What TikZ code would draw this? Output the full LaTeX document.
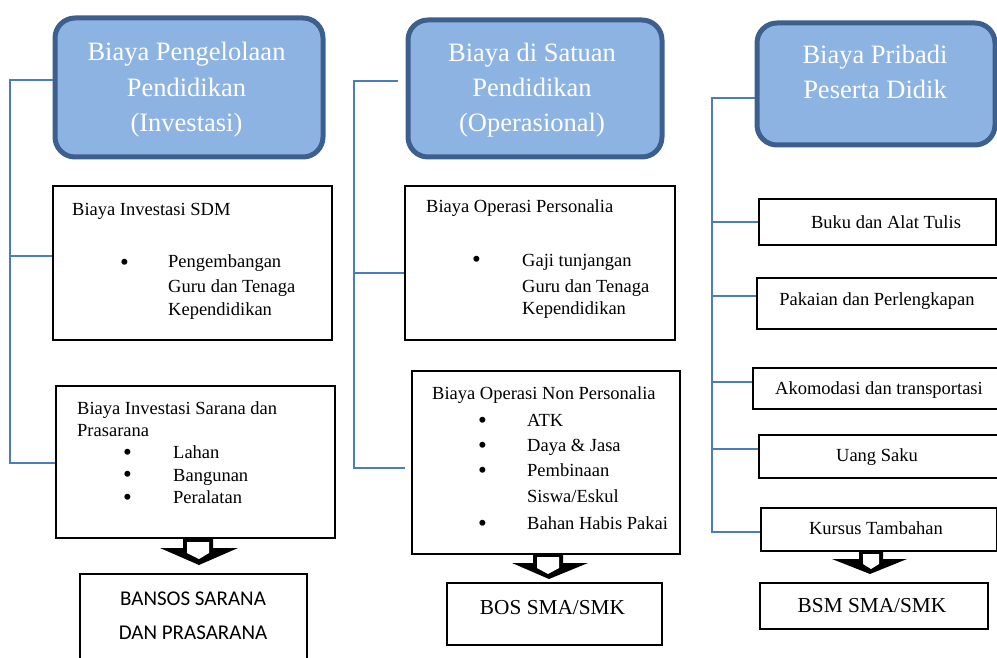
\documentclass[tikz,border=0pt]{standalone}
\usepackage{graphicx}
\usepackage{fontspec}
\setmainfont{Liberation Serif}
\newfontfamily\calibrifont{Carlito}
\definecolor{hdrfill}{HTML}{8DB3E2}
\definecolor{hdrline}{HTML}{3C5F8E}
\definecolor{connblue}{HTML}{4A7EBB}
\newcommand{\bigbul}{\scalebox{1.35}{•}}
\begin{document}
\begin{tikzpicture}[x=1pt,y=-1pt,
  hdr/.style={draw=hdrline,fill=hdrfill,line width=5pt,rounded corners=20pt,anchor=north west,inner sep=0pt},
  box/.style={draw=black,line width=1.6pt,fill=white,anchor=north west,inner sep=0pt},
  conn/.style={draw=connblue,line width=2pt},
  hdrtxt/.style={text=white,font=\fontsize{26.5}{30}\selectfont,anchor=base,inner sep=0pt},
  txt/.style={font=\fontsize{18.5}{22}\selectfont,anchor=base west,inner sep=0pt},
  bul/.style={font=\fontsize{18.5}{22}\selectfont,anchor=base west,inner sep=0pt},
  bulcol/.style={font=\fontsize{18.5}{22.5}\selectfont,anchor=north west,inner sep=0pt,align=left},
  ctxt/.style={font=\fontsize{18.5}{22}\selectfont,anchor=base,inner sep=0pt},
  bigtxt/.style={font=\fontsize{21.3}{25}\selectfont,anchor=base,inner sep=0pt},
  caltxt/.style={font=\calibrifont\fontsize{21}{25}\selectfont,anchor=base,inner sep=0pt},
  blkout/.style={fill=black},
  blkin/.style={fill=white}
]
\useasboundingbox (0,0) rectangle (997,658);

% spine coordinates
\coordinate (sp1a) at (10,80);
\coordinate (sp1b) at (10,463);
\coordinate (b1) at (10,256);
\coordinate (sp2a) at (354,81);
\coordinate (sp2b) at (354,468);
\coordinate (b2) at (354,273);
\coordinate (sp3a) at (712,98);
\coordinate (sp3b) at (712,532);
\coordinate (r1) at (712,222);
\coordinate (r2) at (712,296);
\coordinate (r3) at (712,382);
\coordinate (r4) at (712,449);

% header nodes
\node[hdr,minimum width=268pt,minimum height=139pt] (h1) at (52.5,15.5) {};
\node[hdr,minimum width=254pt,minimum height=137pt] (h2) at (405.5,17.5) {};
\node[hdr,minimum width=238pt,minimum height=122pt] (h3) at (754.5,20.5) {};

% boxes
\node[box,minimum width=279pt,minimum height=154pt] (sdm) at (52,185) {};
\node[box,minimum width=279pt,minimum height=152pt] (sar) at (55,385) {};
\node[box,minimum width=227pt,minimum height=90pt] (bansos) at (79,573) {};
\node[box,minimum width=270pt,minimum height=154pt] (pers) at (404,185) {};
\node[box,minimum width=268pt,minimum height=183pt] (nonp) at (411,370) {};
\node[box,minimum width=215pt,minimum height=62pt] (bos) at (446,582) {};
\node[box,minimum width=237pt,minimum height=46pt] (buku) at (758,198) {};
\node[box,minimum width=243pt,minimum height=51pt] (pak) at (756,277) {};
\node[box,minimum width=250pt,minimum height=41pt] (ako) at (752,367) {};
\node[box,minimum width=241pt,minimum height=43pt] (uang) at (758,434) {};
\node[box,minimum width=236pt,minimum height=43pt] (kur) at (760,507) {};
\node[box,minimum width=228pt,minimum height=46pt] (bsm) at (759,582) {};

% connectors
\draw[conn] (h1.west |- sp1a) -- (sp1a) -- (sp1b) -- (sar.west |- sp1b);
\draw[conn] (b1) -- (sdm.west |- b1);
\draw[conn,shorten <=8pt,shorten >=6pt] (h2.west |- sp2a) -- (sp2a) -- (sp2b) -- (nonp.west |- sp2b);
\draw[conn] (b2) -- (pers.west |- b2);
\draw[conn] (h3.west |- sp3a) -- (sp3a) -- (sp3b) -- (kur.west |- sp3b);
\draw[conn] (r1) -- (buku.west |- r1);
\draw[conn] (r2) -- (pak.west |- r2);
\draw[conn] (r3) -- (ako.west |- r3);
\draw[conn] (r4) -- (uang.west |- r4);

% block arrows (black outline, white interior)
\fill[blkout] (183,538) -- (213,538) -- (213,548) -- (238,548) -- (199,565) -- (160,548) -- (183,548) -- cycle;
\fill[blkin] (187,542) -- (209,542) -- (209,553) -- (199,559) -- (187,553) -- cycle;
\fill[blkout] (533,553) -- (563,553) -- (563,563) -- (588,563) -- (549,579) -- (512,563) -- (533,563) -- cycle;
\fill[blkin] (537,557) -- (559,557) -- (559,568) -- (548,574) -- (537,568) -- cycle;
\fill[blkout] (859,550) -- (883,550) -- (883,559) -- (907,559) -- (870,574) -- (832,559) -- (859,559) -- cycle;
\fill[blkin] (863,554) -- (879,554) -- (879,564) -- (871,569) -- (863,564) -- cycle;

% header texts
\node[hdrtxt] (h1t1) at (186.5,61) {Biaya Pengelolaan};
\node[hdrtxt] (h1t2) at (186.5,97) {Pendidikan};
\node[hdrtxt] (h1t3) at (186.5,132) {(Investasi)};
\node[hdrtxt] (h2t1) at (532,62) {Biaya di Satuan};
\node[hdrtxt] (h2t2) at (532,97) {Pendidikan};
\node[hdrtxt] (h2t3) at (532,132) {(Operasional)};
\node[hdrtxt] (h3t1) at (875,64) {Biaya Pribadi};
\node[hdrtxt] (h3t2) at (875,99) {Peserta Didik};

% SDM box
\node[txt] (sdmt) at (72,215) {Biaya Investasi SDM};
\node[bul] (sdmb) at (120,270) {\bigbul};
\node[txt] (sdm1) at (168,268) {Pengembangan};
\node[txt] (sdm2) at (168,292) {Guru dan Tenaga};
\node[txt] (sdm3) at (168,315) {Kependidikan};

% Sarana box
\node[txt] (sart1) at (77,414) {Biaya Investasi Sarana dan};
\node[txt] (sart2) at (77,436) {Prasarana};
\node[bulcol] (sarb) at (123,449) {\bigbul\\\bigbul\\\bigbul};
\node[txt] (sar1) at (173,458) {Lahan};
\node[txt] (sar2) at (173,481) {Bangunan};
\node[txt] (sar3) at (173,503) {Peralatan};

% Bansos
\node[caltxt] (ban1) at (193,605) {BANSOS SARANA};
\node[caltxt] (ban2) at (193,639) {DAN PRASARANA};

% Personalia
\node[txt] (perst) at (426,213) {Biaya Operasi Personalia};
\node[bul] (persb) at (472,268) {\bigbul};
\node[txt] (pers1) at (522,266) {Gaji tunjangan};
\node[txt] (pers2) at (522,292) {Guru dan Tenaga};
\node[txt] (pers3) at (522,314) {Kependidikan};

% Non Personalia
\node[txt] (nonpt) at (432,399) {Biaya Operasi Non Personalia};
\node[bul] (nonpb1) at (478,428) {\bigbul};
\node[bul] (nonpb2) at (478,453) {\bigbul};
\node[bul] (nonpb3) at (478,478) {\bigbul};
\node[bul] (nonpb4) at (478,531) {\bigbul};
\node[txt] (nonp1) at (527,426) {ATK};
\node[txt] (nonp2) at (527,451) {Daya \& Jasa};
\node[txt] (nonp3) at (527,476) {Pembinaan};
\node[txt] (nonp4) at (527,502) {Siswa/Eskul};
\node[txt] (nonp5) at (527,529) {Bahan Habis Pakai};

% BOS
\node[bigtxt] (bost) at (552.5,614) {BOS SMA/SMK};

% right column
\node[ctxt] (bukut) at (886,229) {Buku dan Alat Tulis};
\node[ctxt] (pakt) at (877,305) {Pakaian dan Perlengkapan};
\node[ctxt] (akot) at (879,394) {Akomodasi dan transportasi};
\node[ctxt] (uangt) at (877,461) {Uang Saku};
\node[ctxt] (kurt) at (876,534) {Kursus Tambahan};
\node[bigtxt] (bsmt) at (872,612) {BSM SMA/SMK};
\end{tikzpicture}
\end{document}
